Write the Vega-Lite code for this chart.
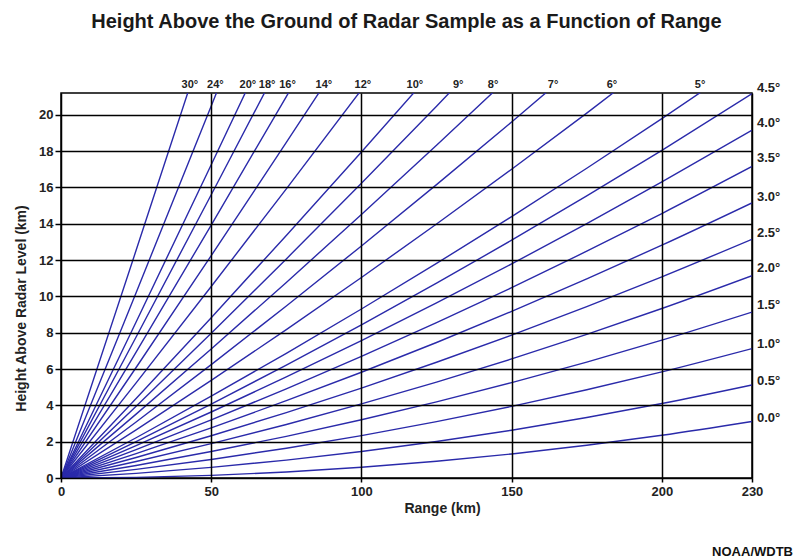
{
  "$schema": "https://vega.github.io/schema/vega-lite/v6.json",
  "width": 691,
  "height": 385,
  "autosize": {"type": "none"},
  "padding": {"left": 61, "top": 93, "right": 42, "bottom": 80},
  "background": "white",
  "title": {
    "text": "Height Above the Ground of Radar Sample as a Function of Range",
    "font": "Liberation Sans",
    "fontSize": 20,
    "fontWeight": "bold",
    "color": "#1a1a1a",
    "anchor": "middle",
    "baseline": "alphabetic",
    "offset": 31
  },
  "config": {
    "view": {"stroke": "#000000", "strokeWidth": 1.5},
    "font": "Liberation Sans"
  },
  "datasets": {
    "lines": [
      {"angle": 0, "r": 0, "h": 0}, {"angle": 0, "r": 25, "h": 0.037}, {"angle": 0, "r": 50, "h": 0.147}, {"angle": 0, "r": 75, "h": 0.331}, {"angle": 0, "r": 100, "h": 0.589}, {"angle": 0, "r": 125, "h": 0.92}, {"angle": 0, "r": 150, "h": 1.324}, {"angle": 0, "r": 175, "h": 1.803}, {"angle": 0, "r": 200, "h": 2.354}, {"angle": 0, "r": 230, "h": 3.114},
      {"angle": 0.5, "r": 0, "h": 0}, {"angle": 0.5, "r": 25, "h": 0.255}, {"angle": 0.5, "r": 50, "h": 0.583}, {"angle": 0.5, "r": 75, "h": 0.986}, {"angle": 0.5, "r": 100, "h": 1.462}, {"angle": 0.5, "r": 125, "h": 2.011}, {"angle": 0.5, "r": 150, "h": 2.633}, {"angle": 0.5, "r": 175, "h": 3.33}, {"angle": 0.5, "r": 200, "h": 4.099}, {"angle": 0.5, "r": 230, "h": 5.121},
      {"angle": 1, "r": 0, "h": 0}, {"angle": 1, "r": 25, "h": 0.473}, {"angle": 1, "r": 50, "h": 1.02}, {"angle": 1, "r": 75, "h": 1.64}, {"angle": 1, "r": 100, "h": 2.334}, {"angle": 1, "r": 125, "h": 3.102}, {"angle": 1, "r": 150, "h": 3.942}, {"angle": 1, "r": 175, "h": 4.857}, {"angle": 1, "r": 200, "h": 5.844}, {"angle": 1, "r": 230, "h": 7.128},
      {"angle": 1.5, "r": 0, "h": 0}, {"angle": 1.5, "r": 25, "h": 0.691}, {"angle": 1.5, "r": 50, "h": 1.456}, {"angle": 1.5, "r": 75, "h": 2.294}, {"angle": 1.5, "r": 100, "h": 3.207}, {"angle": 1.5, "r": 125, "h": 4.192}, {"angle": 1.5, "r": 150, "h": 5.251}, {"angle": 1.5, "r": 175, "h": 6.384}, {"angle": 1.5, "r": 200, "h": 7.589}, {"angle": 1.5, "r": 230, "h": 9.135},
      {"angle": 2, "r": 0, "h": 0}, {"angle": 2, "r": 25, "h": 0.909}, {"angle": 2, "r": 50, "h": 1.892}, {"angle": 2, "r": 75, "h": 2.948}, {"angle": 2, "r": 100, "h": 4.079}, {"angle": 2, "r": 125, "h": 5.282}, {"angle": 2, "r": 150, "h": 6.559}, {"angle": 2, "r": 175, "h": 7.91}, {"angle": 2, "r": 200, "h": 9.334}, {"angle": 2, "r": 230, "h": 11.141},
      {"angle": 2.5, "r": 0, "h": 0}, {"angle": 2.5, "r": 25, "h": 1.127}, {"angle": 2.5, "r": 50, "h": 2.328}, {"angle": 2.5, "r": 75, "h": 3.602}, {"angle": 2.5, "r": 100, "h": 4.951}, {"angle": 2.5, "r": 125, "h": 6.372}, {"angle": 2.5, "r": 150, "h": 7.867}, {"angle": 2.5, "r": 175, "h": 9.436}, {"angle": 2.5, "r": 200, "h": 11.078}, {"angle": 2.5, "r": 230, "h": 13.146},
      {"angle": 3, "r": 0, "h": 0}, {"angle": 3, "r": 25, "h": 1.345}, {"angle": 3, "r": 50, "h": 2.764}, {"angle": 3, "r": 75, "h": 4.256}, {"angle": 3, "r": 100, "h": 5.823}, {"angle": 3, "r": 125, "h": 7.462}, {"angle": 3, "r": 150, "h": 9.174}, {"angle": 3, "r": 175, "h": 10.962}, {"angle": 3, "r": 200, "h": 12.821}, {"angle": 3, "r": 230, "h": 15.151},
      {"angle": 3.5, "r": 0, "h": 0}, {"angle": 3.5, "r": 25, "h": 1.563}, {"angle": 3.5, "r": 50, "h": 3.199}, {"angle": 3.5, "r": 75, "h": 4.91}, {"angle": 3.5, "r": 100, "h": 6.694}, {"angle": 3.5, "r": 125, "h": 8.551}, {"angle": 3.5, "r": 150, "h": 10.481}, {"angle": 3.5, "r": 175, "h": 12.487}, {"angle": 3.5, "r": 200, "h": 14.564}, {"angle": 3.5, "r": 230, "h": 17.155},
      {"angle": 4, "r": 0, "h": 0}, {"angle": 4, "r": 25, "h": 1.781}, {"angle": 4, "r": 50, "h": 3.635}, {"angle": 4, "r": 75, "h": 5.563}, {"angle": 4, "r": 100, "h": 7.565}, {"angle": 4, "r": 125, "h": 9.64}, {"angle": 4, "r": 150, "h": 11.787}, {"angle": 4, "r": 175, "h": 14.01}, {"angle": 4, "r": 200, "h": 16.305}, {"angle": 4, "r": 230, "h": 19.158},
      {"angle": 4.5, "r": 0, "h": 0}, {"angle": 4.5, "r": 25, "h": 1.998}, {"angle": 4.5, "r": 50, "h": 4.07}, {"angle": 4.5, "r": 75, "h": 6.215}, {"angle": 4.5, "r": 100, "h": 8.435}, {"angle": 4.5, "r": 125, "h": 10.727}, {"angle": 4.5, "r": 150, "h": 13.093}, {"angle": 4.5, "r": 175, "h": 15.533}, {"angle": 4.5, "r": 200, "h": 18.046}, {"angle": 4.5, "r": 230, "h": 21.16},
      {"angle": 5, "r": 0, "h": 0}, {"angle": 5, "r": 25, "h": 2.216}, {"angle": 5, "r": 50, "h": 4.505}, {"angle": 5, "r": 75, "h": 6.868}, {"angle": 5, "r": 100, "h": 9.305}, {"angle": 5, "r": 125, "h": 11.815}, {"angle": 5, "r": 150, "h": 14.397}, {"angle": 5, "r": 175, "h": 17.055}, {"angle": 5, "r": 200, "h": 19.785}, {"angle": 5, "r": 230, "h": 23.16},
      {"angle": 6, "r": 0, "h": 0}, {"angle": 6, "r": 25, "h": 2.65}, {"angle": 6, "r": 50, "h": 5.373}, {"angle": 6, "r": 75, "h": 8.171}, {"angle": 6, "r": 100, "h": 11.042}, {"angle": 6, "r": 125, "h": 13.986}, {"angle": 6, "r": 150, "h": 17.003}, {"angle": 6, "r": 175, "h": 20.095}, {"angle": 6, "r": 200, "h": 23.26},
      {"angle": 7, "r": 0, "h": 0}, {"angle": 7, "r": 25, "h": 3.084}, {"angle": 7, "r": 50, "h": 6.24}, {"angle": 7, "r": 75, "h": 9.471}, {"angle": 7, "r": 100, "h": 12.776}, {"angle": 7, "r": 125, "h": 16.154}, {"angle": 7, "r": 150, "h": 19.604}, {"angle": 7, "r": 175, "h": 23.13},
      {"angle": 8, "r": 0, "h": 0}, {"angle": 8, "r": 25, "h": 3.516}, {"angle": 8, "r": 50, "h": 7.106}, {"angle": 8, "r": 75, "h": 10.769}, {"angle": 8, "r": 100, "h": 14.506}, {"angle": 8, "r": 125, "h": 18.317}, {"angle": 8, "r": 150, "h": 22.2},
      {"angle": 9, "r": 0, "h": 0}, {"angle": 9, "r": 25, "h": 3.948}, {"angle": 9, "r": 50, "h": 7.969}, {"angle": 9, "r": 75, "h": 12.064}, {"angle": 9, "r": 100, "h": 16.232}, {"angle": 9, "r": 125, "h": 20.474}, {"angle": 9, "r": 150, "h": 24.789},
      {"angle": 10, "r": 0, "h": 0}, {"angle": 10, "r": 25, "h": 4.378}, {"angle": 10, "r": 50, "h": 8.829}, {"angle": 10, "r": 75, "h": 13.355}, {"angle": 10, "r": 100, "h": 17.954}, {"angle": 10, "r": 125, "h": 22.626},
      {"angle": 12, "r": 0, "h": 0}, {"angle": 12, "r": 25, "h": 5.235}, {"angle": 12, "r": 50, "h": 10.543}, {"angle": 12, "r": 75, "h": 15.924}, {"angle": 12, "r": 100, "h": 21.38}, {"angle": 12, "r": 125, "h": 26.909},
      {"angle": 14, "r": 0, "h": 0}, {"angle": 14, "r": 25, "h": 6.085}, {"angle": 14, "r": 50, "h": 12.243}, {"angle": 14, "r": 75, "h": 18.475}, {"angle": 14, "r": 100, "h": 24.781},
      {"angle": 16, "r": 0, "h": 0}, {"angle": 16, "r": 25, "h": 6.928}, {"angle": 16, "r": 50, "h": 13.929}, {"angle": 16, "r": 75, "h": 21.004}, {"angle": 16, "r": 100, "h": 28.153},
      {"angle": 18, "r": 0, "h": 0}, {"angle": 18, "r": 25, "h": 7.762}, {"angle": 18, "r": 50, "h": 15.598}, {"angle": 18, "r": 75, "h": 23.507},
      {"angle": 20, "r": 0, "h": 0}, {"angle": 20, "r": 25, "h": 8.588}, {"angle": 20, "r": 50, "h": 17.248}, {"angle": 20, "r": 75, "h": 25.983},
      {"angle": 24, "r": 0, "h": 0}, {"angle": 24, "r": 25, "h": 10.205}, {"angle": 24, "r": 50, "h": 20.484}, {"angle": 24, "r": 60, "h": 24.616},
      {"angle": 30, "r": 0, "h": 0}, {"angle": 30, "r": 25, "h": 12.537}, {"angle": 30, "r": 50, "h": 25.147}
    ],
    "topLabels": [
      {"label": "30°", "r": 42.9}, {"label": "24°", "r": 51.4}, {"label": "20°", "r": 62.2}, {"label": "18°", "r": 68.6}, {"label": "16°", "r": 75.4}, {"label": "14°", "r": 87.5}, {"label": "12°", "r": 100.5}, {"label": "10°", "r": 117.8}, {"label": "9°", "r": 132.2}, {"label": "8°", "r": 143.8}, {"label": "7°", "r": 163.8}, {"label": "6°", "r": 183.4}, {"label": "5°", "r": 212.7}
    ],
    "rightLabels": [
      {"label": "4.5°", "h": 21.5}, {"label": "4.0°", "h": 19.55}, {"label": "3.5°", "h": 17.6}, {"label": "3.0°", "h": 15.5}, {"label": "2.5°", "h": 13.5}, {"label": "2.0°", "h": 11.55}, {"label": "1.5°", "h": 9.5}, {"label": "1.0°", "h": 7.4}, {"label": "0.5°", "h": 5.35}, {"label": "0.0°", "h": 3.3}
    ],
    "credit": [{"t": "NOAA/WDTB"}]
  },
  "layer": [
    {
      "data": {"name": "lines"},
      "mark": {"type": "line", "clip": true, "color": "#2a2aaa", "strokeWidth": 1.4, "interpolate": "monotone"},
      "encoding": {
        "x": {
          "field": "r", "type": "quantitative",
          "scale": {"domain": [0, 230], "nice": false, "zero": false},
          "axis": {
            "values": [0, 50, 100, 150, 200, 230], "tickCount": 20, "format": "d",
            "grid": true, "gridColor": "#000000", "gridWidth": 1.5, "gridOpacity": 1,
            "domain": false, "ticks": true, "tickColor": "#000000", "tickSize": 4, "tickWidth": 1.5,
            "labelFont": "Liberation Sans", "labelFontSize": 13, "labelFontWeight": "bold", "labelColor": "#222222",
            "labelPadding": 3, "labelFlush": false, "labelOverlap": false,
            "title": "Range (km)", "titleFont": "Liberation Sans", "titleFontSize": 14, "titleFontWeight": "bold", "titleColor": "#222222",
            "titleX": 381, "titleY": 34, "titleAlign": "center", "titleBaseline": "alphabetic",
            "zindex": 1
          }
        },
        "y": {
          "field": "h", "type": "quantitative",
          "scale": {"domain": [0, 21.2], "nice": false, "zero": false},
          "axis": {
            "values": [0, 2, 4, 6, 8, 10, 12, 14, 16, 18, 20], "tickCount": 30, "format": "d",
            "grid": true, "gridColor": "#000000", "gridWidth": 1.5, "gridOpacity": 1,
            "domain": false, "ticks": true, "tickColor": "#000000", "tickSize": 6, "tickWidth": 1.5,
            "labelFont": "Liberation Sans", "labelFontSize": 13, "labelFontWeight": "bold", "labelColor": "#222222",
            "labelPadding": 2, "labelFlush": false, "labelOverlap": false,
            "title": "Height Above Radar Level (km)", "titleFont": "Liberation Sans", "titleFontSize": 14, "titleFontWeight": "bold", "titleColor": "#222222",
            "titleX": -36, "titleY": 215, "titleAngle": 270, "titleAlign": "center", "titleBaseline": "alphabetic",
            "zindex": 1
          }
        },
        "detail": {"field": "angle", "type": "nominal"}
      }
    },
    {
      "data": {"name": "topLabels"},
      "mark": {"type": "text", "align": "center", "baseline": "alphabetic", "dy": -5, "font": "Liberation Sans", "fontSize": 11, "fontWeight": "bold", "color": "#222222"},
      "encoding": {
        "x": {"field": "r", "type": "quantitative", "scale": {"domain": [0, 230], "nice": false, "zero": false}},
        "y": {"datum": 21.2, "type": "quantitative", "scale": {"domain": [0, 21.2], "nice": false, "zero": false}},
        "text": {"field": "label"}
      }
    },
    {
      "data": {"name": "rightLabels"},
      "mark": {"type": "text", "align": "left", "baseline": "middle", "dx": 5, "font": "Liberation Sans", "fontSize": 13, "fontWeight": "bold", "color": "#222222"},
      "encoding": {
        "x": {"datum": 230, "type": "quantitative", "scale": {"domain": [0, 230], "nice": false, "zero": false}},
        "y": {"field": "h", "type": "quantitative", "scale": {"domain": [0, 21.2], "nice": false, "zero": false}},
        "text": {"field": "label"}
      }
    },
    {
      "data": {"name": "credit"},
      "mark": {"type": "text", "align": "right", "baseline": "alphabetic", "dx": 41, "font": "Liberation Sans", "fontSize": 13, "fontWeight": "bold", "color": "#111111"},
      "encoding": {
        "x": {"datum": 230, "type": "quantitative", "scale": {"domain": [0, 230], "nice": false, "zero": false}},
        "y": {"datum": -4.3, "type": "quantitative", "scale": {"domain": [0, 21.2], "nice": false, "zero": false}},
        "text": {"field": "t"}
      }
    }
  ]
}
